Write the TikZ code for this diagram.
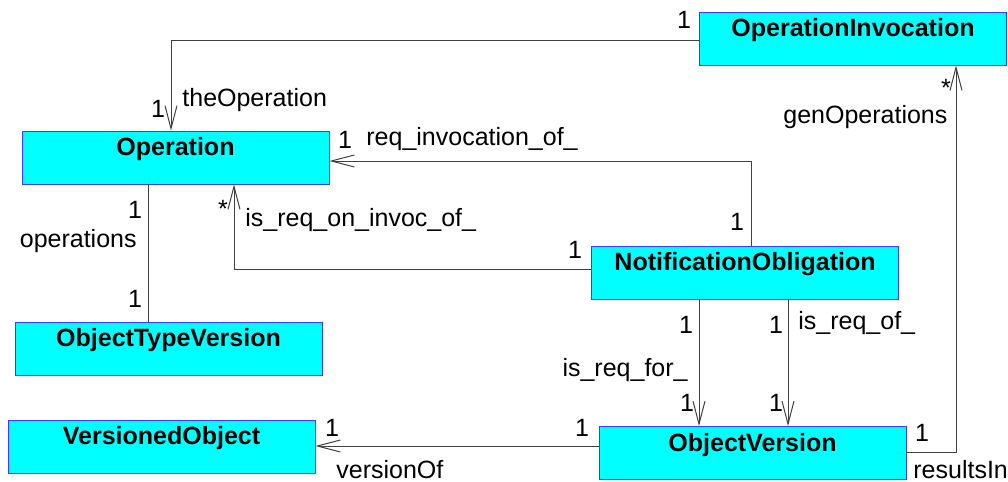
\documentclass[tikz,border=0pt]{standalone}
\usepackage{fontspec}
\setmainfont{Liberation Sans}
\usetikzlibrary{arrows.meta}
\definecolor{classfill}{RGB}{0,255,255}
\definecolor{classline}{RGB}{60,60,255}

\begin{document}
\begin{tikzpicture}[x=0.5pt, y=-0.5pt,
      font=\fontsize{12.5}{15}\selectfont,
      classbox/.style = {shape=rectangle, draw=classline, fill=classfill,
        font=\fontsize{12.5}{15}\selectfont\bfseries, inner sep=0pt,
        minimum width=153.5pt, text height=12.25pt, text depth=14.25pt},
      assoc/.style = {draw=black!75, line width=0.5pt},
      navto/.style = {assoc, -{Straight Barb[length=11.5pt,width=6pt]}},
      mult/.style = {inner sep=0pt, anchor=base},
      role/.style = {inner sep=0pt}]
  \useasboundingbox (0,0) rectangle (1008,482);

  \node[classbox] (oper)   at (175.5,157.5) {Operation};
  \node[classbox] (opinv)  at (853,38.5)    {OperationInvocation};
  \node[classbox] (otv)    at (168.5,348.5) {ObjectTypeVersion};
  \node[classbox] (vobj)   at (161.5,446.5) {VersionedObject};
  \node[classbox] (notif)  at (745,272.5)   {NotificationObligation};
  \node[classbox] (objver) at (752.5,453)   {ObjectVersion};

  \draw[navto] ([yshift=-0.75pt]opinv.west) -| ([xshift=-2.25pt]oper.north);
  \draw[navto] ([xshift=3pt]notif.north) |- ([yshift=-1.75pt]oper.east);
  \draw[navto] ([yshift=1.75pt]notif.west) -| ([xshift=29.25pt]oper.south);
  \draw[assoc] ([xshift=-13.75pt]oper.south) -- ([xshift=-10.25pt]otv.north);
  \draw[navto] ([xshift=-23pt]notif.south) -- ([xshift=-26.75pt]objver.north);
  \draw[navto] ([xshift=21.5pt]notif.south) -- ([xshift=17.75pt]objver.north);
  \draw[navto] ([yshift=3.5pt]objver.west) -- ([yshift=0.25pt]vobj.east);
  \draw[navto] ([yshift=0.5pt]objver.east) -| ([xshift=51.5pt]opinv.south);

  \node[mult] (m1)  at (684,28)  {1};
  \node[mult] (m2)  at (158,117) {1};
  \node[role, anchor=base west] (r1) at (182,106) {theOperation};
  \node[mult] (m3)  at (345,148) {1};
  \node[role, anchor=base west] (r2) at (366,145) {req\_invocation\_of\_};
  \node[mult] (m4)  at (737,230) {1};
  \node[mult] (m5)  at (223,217) {*};
  \node[role, anchor=base west] (r3) at (245,226) {is\_req\_on\_invoc\_of\_};
  \node[mult] (m6)  at (575,258) {1};
  \node[mult] (m7)  at (135,218) {1};
  \node[role, anchor=base east] (r4) at (137,247) {operations};
  \node[mult] (m8)  at (135,307) {1};
  \node[mult] (m9)  at (686,333) {1};
  \node[role, anchor=base east] (r5) at (688,376) {is\_req\_for\_};
  \node[mult] (m10) at (687,411) {1};
  \node[mult] (m11) at (776,333) {1};
  \node[role, anchor=base west] (r6) at (798,329) {is\_req\_of\_};
  \node[mult] (m12) at (776,411) {1};
  \node[mult] (m13) at (582,436) {1};
  \node[mult] (m14) at (332,436) {1};
  \node[role, anchor=base west] (r7) at (336,478) {versionOf};
  \node[mult] (m15) at (922,441) {1};
  \node[role, anchor=base west] (r8) at (913,478) {resultsIn};
  \node[mult] (m16) at (946,97) {*};
  \node[role, anchor=base west] (r9) at (783,123) {genOperations};
\end{tikzpicture}
\end{document}
